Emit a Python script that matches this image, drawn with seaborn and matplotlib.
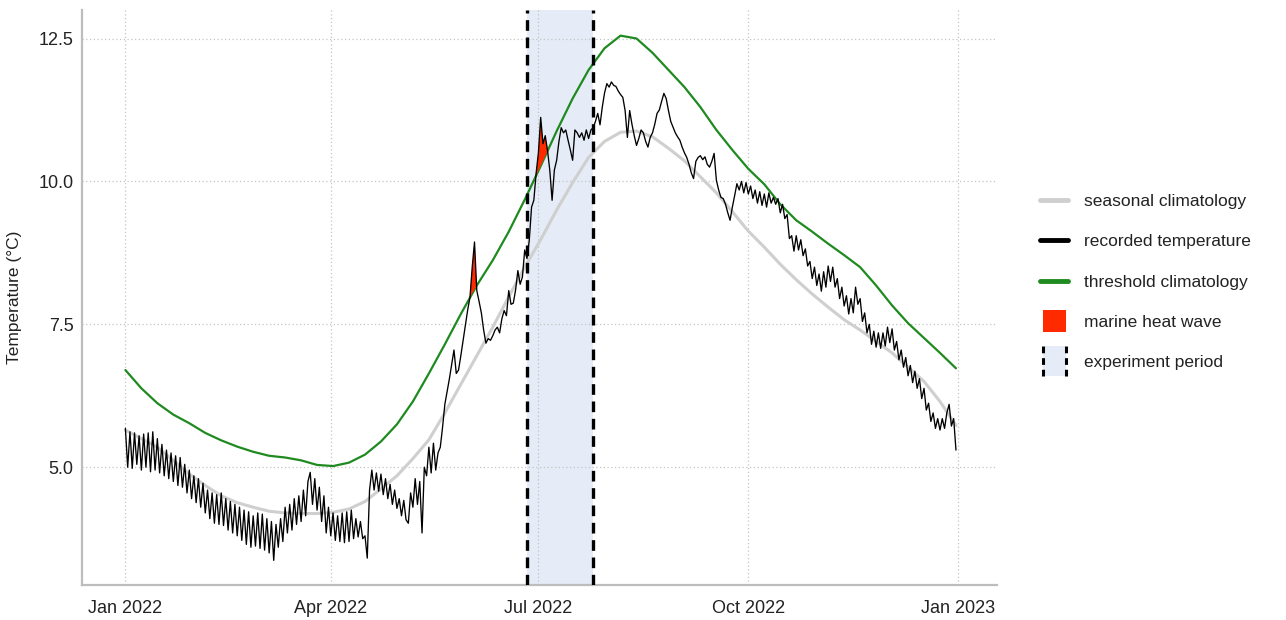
import numpy as np
import pandas as pd
import matplotlib
matplotlib.use("Agg")
import matplotlib.pyplot as plt
import seaborn as sns
from matplotlib.legend_handler import HandlerBase
from matplotlib.patches import Rectangle
from matplotlib.lines import Line2D

# ---------------- data ----------------
year_start = "2022-01-01"
# weekly climatology values (day-of-year 0, 7, ..., 364)
clim_day = list(range(0, 365, 7))
seasonal_climatology = [
    5.65, 5.50, 5.35, 5.12, 4.88, 4.68, 4.50, 4.38, 4.30, 4.23,
    4.20, 4.19, 4.19, 4.21, 4.27, 4.40, 4.62, 4.85, 5.15, 5.48,
    5.95, 6.45, 6.95, 7.45, 7.98, 8.50, 8.98, 9.50, 9.98, 10.42,
    10.70, 10.86, 10.88, 10.78, 10.58, 10.36, 10.08, 9.80, 9.47, 9.13,
    8.85, 8.55, 8.28, 8.03, 7.80, 7.58, 7.40, 7.20, 7.00, 6.75,
    6.50, 6.15, 5.73]
threshold_climatology = [
    6.70, 6.38, 6.12, 5.92, 5.77, 5.60, 5.47, 5.36, 5.27, 5.20,
    5.17, 5.12, 5.04, 5.02, 5.08, 5.22, 5.45, 5.75, 6.15, 6.64,
    7.15, 7.68, 8.18, 8.62, 9.12, 9.68, 10.27, 10.88, 11.45, 11.95,
    12.33, 12.55, 12.50, 12.25, 11.95, 11.65, 11.30, 10.90, 10.55, 10.22,
    9.95, 9.60, 9.32, 9.12, 8.91, 8.71, 8.50, 8.18, 7.83, 7.52,
    7.26, 7.00, 6.73]
# daily recorded temperature (day-of-year 0 ... 364)
recorded_temperature = [
    5.68, 5.00, 5.62, 4.98, 5.60, 5.05, 5.55, 4.95, 5.58, 5.00,
    5.60, 4.92, 5.62, 4.95, 5.50, 4.90, 5.40, 4.85, 5.30, 4.80,
    5.25, 4.75, 5.20, 4.68, 5.17, 4.65, 5.05, 4.55, 4.95, 4.45,
    4.85, 4.38, 4.80, 4.30, 4.72, 4.20, 4.60, 4.10, 4.55, 4.02,
    4.52, 4.00, 4.55, 3.98, 4.45, 3.90, 4.40, 3.85, 4.35, 3.80,
    4.30, 3.72, 4.25, 3.65, 4.22, 3.60, 4.15, 3.62, 4.20, 3.58,
    4.18, 3.55, 4.10, 3.50, 4.05, 3.37, 4.00, 3.60, 4.10, 3.70,
    4.30, 3.85, 4.35, 3.90, 4.45, 4.00, 4.50, 4.05, 4.60, 4.15,
    4.75, 4.91, 4.35, 4.80, 4.25, 4.65, 4.05, 4.50, 3.85, 4.30,
    3.80, 4.20, 3.72, 4.15, 3.70, 4.20, 3.68, 4.22, 3.70, 4.25,
    3.75, 4.10, 3.78, 4.05, 3.75, 3.80, 3.41, 4.60, 4.95, 4.60,
    4.90, 4.58, 4.88, 4.52, 4.80, 4.45, 4.70, 4.35, 4.60, 4.28,
    4.45, 4.15, 4.42, 4.08, 4.02, 4.55, 4.30, 4.80, 4.35, 4.75,
    3.85, 5.00, 4.85, 5.35, 4.90, 5.42, 4.95, 5.25, 5.35, 5.70,
    6.10, 6.32, 6.55, 6.80, 7.05, 6.64, 6.70, 6.95, 7.22, 7.50,
    7.75, 7.97, 8.50, 8.94, 8.09, 7.90, 7.70, 7.40, 7.17, 7.25,
    7.22, 7.30, 7.40, 7.45, 7.35, 7.60, 7.74, 7.65, 8.09, 7.85,
    7.87, 8.10, 8.44, 8.20, 8.33, 8.80, 8.65, 8.97, 9.55, 9.67,
    10.14, 10.50, 11.12, 10.66, 10.80, 10.54, 10.19, 9.67, 10.20, 10.37,
    10.70, 10.94, 10.85, 10.90, 10.72, 10.55, 10.37, 10.90, 10.85, 10.77,
    10.85, 10.72, 10.90, 10.75, 10.90, 10.94, 11.05, 11.19, 10.99, 11.30,
    11.55, 11.71, 11.65, 11.74, 11.68, 11.66, 11.58, 11.52, 11.47, 11.24,
    10.77, 11.24, 11.00, 10.80, 10.63, 10.75, 10.90, 10.85, 10.70, 10.60,
    10.77, 10.85, 11.00, 11.19, 11.25, 11.40, 11.54, 11.45, 11.24, 11.05,
    10.95, 10.85, 10.78, 10.72, 10.60, 10.50, 10.42, 10.30, 10.15, 10.05,
    10.35, 10.42, 10.45, 10.38, 10.43, 10.30, 10.25, 10.35, 10.49, 10.02,
    9.85, 9.72, 9.70, 9.60, 9.45, 9.32, 9.55, 9.75, 9.96, 9.85,
    10.00, 9.80, 9.98, 9.78, 9.92, 9.70, 9.85, 9.62, 9.82, 9.58,
    9.78, 9.55, 9.80, 9.62, 9.72, 9.60, 9.70, 9.45, 9.60, 9.35,
    9.42, 9.00, 9.05, 8.78, 9.05, 8.80, 8.98, 8.70, 8.82, 8.52,
    8.60, 8.30, 8.50, 8.18, 8.38, 8.08, 8.42, 8.15, 8.52, 8.25,
    8.50, 8.15, 8.30, 7.95, 8.15, 7.82, 8.00, 7.68, 7.95, 7.70,
    8.15, 7.85, 7.95, 7.55, 7.70, 7.35, 7.50, 7.15, 7.38, 7.10,
    7.35, 7.08, 7.35, 7.12, 7.45, 7.18, 7.42, 7.05, 7.20, 6.88,
    7.05, 6.75, 6.92, 6.60, 6.78, 6.48, 6.68, 6.38, 6.55, 6.20,
    6.38, 6.00, 6.12, 5.80, 5.95, 5.68, 5.85, 5.65, 5.85, 5.68,
    5.95, 6.10, 5.72, 5.85, 5.30]
experiment_start = "2022-06-26"
experiment_end = "2022-07-25"
tick_dates = ["2022-01-01", "2022-04-01", "2022-07-01", "2022-10-01", "2023-01-01"]
tick_labels = ["Jan 2022", "Apr 2022", "Jul 2022", "Oct 2022", "Jan 2023"]
y_ticks = [5.0, 7.5, 10.0, 12.5]
legend_labels = ["seasonal climatology", "recorded temperature",
                 "threshold climatology", "marine heat wave", "experiment period"]

# ---------------- frames ----------------
t0 = pd.Timestamp(year_start)
clim_df = pd.DataFrame({
    "date": t0 + pd.to_timedelta(clim_day, unit="D"),
    "seasonal": seasonal_climatology,
    "threshold": threshold_climatology,
})
rec_day = np.arange(len(recorded_temperature))
rec_df = pd.DataFrame({
    "date": t0 + pd.to_timedelta(rec_day, unit="D"),
    "temp": recorded_temperature,
})
thr_at_rec = np.interp(rec_day, clim_day, threshold_climatology)

# ---------------- style ----------------
sns.set_style("white")
plt.rcParams["font.family"] = ["Liberation Sans", "DejaVu Sans"]

GREEN = "#1f8a1f"
GRAY = "#cfcfcf"
RED = "#ff2a00"
SHADE = "#e5ecf7"

fig = plt.figure(figsize=(12.86, 6.20), dpi=100)
ax = fig.add_axes([0.0638, 0.0565, 0.7115, 0.9275])

ax.axvspan(pd.Timestamp(experiment_start), pd.Timestamp(experiment_end),
           color=SHADE, zorder=0, lw=0)

sns.lineplot(data=clim_df, x="date", y="seasonal", ax=ax, color=GRAY, lw=2.2, zorder=2)
sns.lineplot(data=clim_df, x="date", y="threshold", ax=ax, color=GREEN, lw=1.6, zorder=3)
ax.fill_between(rec_df["date"], rec_df["temp"], thr_at_rec,
                where=rec_df["temp"].values > thr_at_rec, interpolate=True,
                color=RED, lw=0, zorder=4)
sns.lineplot(data=rec_df, x="date", y="temp", ax=ax, color="black", lw=0.95, zorder=5)

for d in (experiment_start, experiment_end):
    ax.axvline(pd.Timestamp(d), color="black", lw=2.4,
               linestyle=(0, (3.2, 2.0)), zorder=6)

# axes
ax.set_xlim(pd.Timestamp("2021-12-13"), pd.Timestamp("2023-01-18"))
ax.set_ylim(2.94, 13.0)
ax.set_xticks([pd.Timestamp(d) for d in tick_dates])
ax.set_xticklabels(tick_labels)
ax.set_yticks(y_ticks)
ax.set_yticklabels([f"{v:.1f}" for v in y_ticks])
ax.tick_params(axis="x", length=0, pad=11, labelsize=13, colors="#222222")
ax.tick_params(axis="y", length=0, pad=6, labelsize=13, colors="#222222")
ax.set_xlabel("")
ax.set_ylabel("Temperature (°C)", fontsize=12.5, color="#222222", labelpad=12)
ax.grid(True, linestyle=(0, (1, 2)), color="#c4c4c4", lw=0.9)
for s in ("top", "right"):
    ax.spines[s].set_visible(False)
for s in ("left", "bottom"):
    ax.spines[s].set_color("#bdbdbd")
    ax.spines[s].set_linewidth(1.6)


# ---------------- legend ----------------
class SquareHandler(HandlerBase):
    def create_artists(self, legend, orig_handle, xdescent, ydescent,
                       width, height, fontsize, trans):
        s = fontsize * 1.3
        x0 = -xdescent + (width - s) / 2
        y0 = -ydescent + (height - s) / 2
        return [Rectangle((x0, y0), s, s, facecolor=RED, edgecolor="none",
                          transform=trans)]


class ExperimentHandler(HandlerBase):
    def create_artists(self, legend, orig_handle, xdescent, ydescent,
                       width, height, fontsize, trans):
        w = fontsize * 1.3
        h = fontsize * 1.75
        x0 = -xdescent + (width - w) / 2
        y0 = -ydescent + (height - h) / 2
        rect = Rectangle((x0, y0), w, h, facecolor=SHADE, edgecolor="none",
                         transform=trans)
        arts = [rect]
        for xx in (x0, x0 + w):
            arts.append(Line2D([xx, xx], [y0, y0 + h], color="black", lw=2.2,
                               linestyle=(0, (2.2, 1.6)), transform=trans))
        return arts


class SqToken:
    pass


class ExpToken:
    pass


handles = [
    Line2D([], [], color=GRAY, lw=3.5),
    Line2D([], [], color="black", lw=3.5),
    Line2D([], [], color=GREEN, lw=3.5),
    SqToken(),
    ExpToken(),
]
leg = fig.legend(handles, legend_labels, loc="center left",
                 bbox_to_anchor=(0.809, 0.545), frameon=False, fontsize=12.5,
                 handlelength=1.6, handletextpad=0.9, labelspacing=1.45,
                 borderpad=0, borderaxespad=0,
                 handler_map={SqToken: SquareHandler(), ExpToken: ExperimentHandler()})
for t in leg.get_texts():
    t.set_color("#222222")

fig.savefig("out.png", dpi=100)
